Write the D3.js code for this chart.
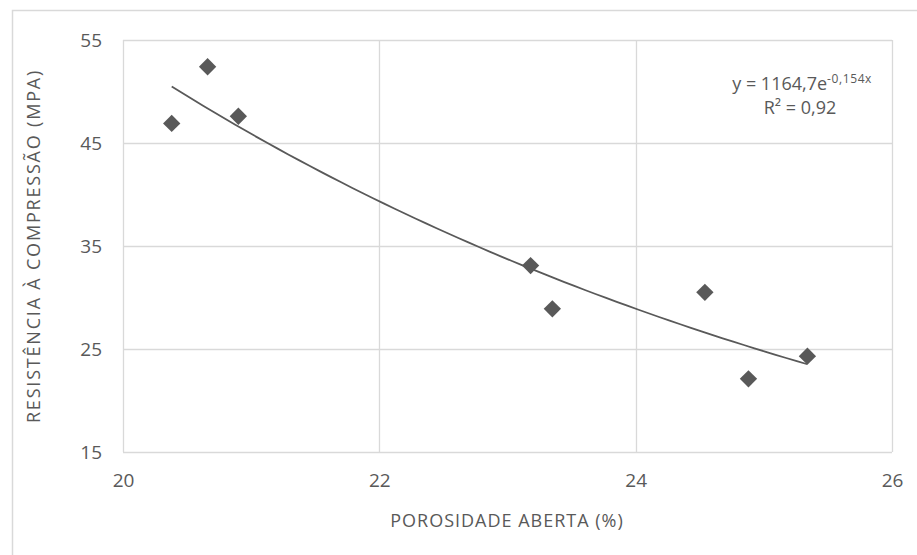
<!DOCTYPE html>
<html>
<head>
<meta charset="utf-8">
<script src="https://cdn.jsdelivr.net/npm/d3@7"></script>
<style>
  html, body { margin: 0; padding: 0; background: #fff; }
  svg { display: block; font-family: "Open Sans", "Liberation Sans", sans-serif; }
</style>
</head>
<body>
<svg id="chart" width="917" height="555"></svg>
<script>
// Porosity (%) vs compressive strength (MPa)
const porosity = [20.38, 20.66, 20.90, 23.18, 23.35, 24.54, 24.88, 25.34];
const strength = [46.9, 52.4, 47.6, 33.1, 28.9, 30.5, 22.1, 24.3];
const xTicks = [20, 22, 24, 26];
const yTicks = [15, 25, 35, 45, 55];
// Exponential trendline y = a·e^(b·x)
const trendA = 1164.7;
const trendB = -0.154;
const equationLabel = ["y = 1164,7e", "-0,154x"];
const r2Label = "R² = 0,92";
const xTitle = "POROSIDADE ABERTA (%)";
const yTitle = "RESISTÊNCIA À COMPRESSÃO (MPA)";

const svg = d3.select("#chart");
const textColor = "#595959";
const gridColor = "#d9d9d9";
const markColor = "#595959";

// chart frame
svg.append("rect")
  .attr("x", 12.5).attr("y", 10.5)
  .attr("width", 912).attr("height", 560)
  .attr("fill", "none").attr("stroke", gridColor).attr("stroke-width", 1.5);

const plot = { left: 123, right: 892, top: 40, bottom: 452 };

const x = d3.scaleLinear().domain([20, 26]).range([plot.left, plot.right]);
const y = d3.scaleLinear().domain([15, 55]).range([plot.bottom, plot.top]);

// gridlines
const g = svg.append("g");
g.selectAll(".hgrid").data(yTicks).join("line")
  .attr("x1", plot.left).attr("x2", plot.right)
  .attr("y1", d => Math.round(y(d)) + 0.5).attr("y2", d => Math.round(y(d)) + 0.5)
  .attr("stroke", gridColor).attr("stroke-width", 1.3);
g.selectAll(".vgrid").data(xTicks).join("line")
  .attr("y1", plot.top).attr("y2", plot.bottom)
  .attr("x1", d => Math.round(x(d)) + 0.5).attr("x2", d => Math.round(x(d)) + 0.5)
  .attr("stroke", gridColor).attr("stroke-width", 1.3);

// axes (labels only)
const xAxis = d3.axisBottom(x).tickValues(xTicks).tickFormat(d3.format("d"))
  .tickSize(0).tickPadding(22);
svg.append("g").attr("transform", `translate(0,${plot.bottom})`).call(xAxis)
  .call(a => a.select(".domain").remove())
  .call(a => a.selectAll("text").attr("fill", textColor)
    .style("font-size", "19px").style("font-family", "'Open Sans', sans-serif"));

const yAxis = d3.axisLeft(y).tickValues(yTicks).tickFormat(d3.format("d"))
  .tickSize(0).tickPadding(21);
svg.append("g").attr("transform", `translate(${plot.left},0)`).call(yAxis)
  .call(a => a.select(".domain").remove())
  .call(a => a.selectAll("text").attr("fill", textColor)
    .style("font-size", "19px").style("font-family", "'Open Sans', sans-serif"));

// trendline across the data range
const xMin = d3.min(porosity), xMax = d3.max(porosity);
const trend = d3.range(0, 61).map(i => {
  const xv = xMin + (xMax - xMin) * i / 60;
  return [xv, trendA * Math.exp(trendB * xv)];
});
svg.append("path")
  .datum(trend)
  .attr("d", d3.line().x(d => x(d[0])).y(d => y(d[1])))
  .attr("fill", "none").attr("stroke", markColor).attr("stroke-width", 1.8);

// data points as diamonds
const data = porosity.map((p, i) => ({ p, s: strength[i] }));
svg.selectAll(".pt").data(data).join("path")
  .attr("d", d3.symbol().type(d3.symbolSquare).size(150))
  .attr("transform", d => `translate(${x(d.p)},${y(d.s)}) rotate(45)`)
  .attr("fill", markColor);

// equation label
const eq = svg.append("text")
  .attr("x", 872).attr("y", 90)
  .attr("text-anchor", "end")
  .attr("fill", textColor)
  .style("font-size", "18px");
eq.append("tspan").text(equationLabel[0]);
eq.append("tspan").text(equationLabel[1])
  .attr("dy", -7).style("font-size", "12px").style("letter-spacing", "0.6px");
svg.append("text")
  .attr("x", 800).attr("y", 114)
  .attr("text-anchor", "middle")
  .attr("fill", textColor)
  .style("font-size", "18px")
  .text(r2Label);

// axis titles
svg.append("text")
  .attr("x", 507).attr("y", 527)
  .attr("text-anchor", "middle")
  .attr("fill", textColor)
  .style("font-size", "18px")
  .style("letter-spacing", "1px")
  .text(xTitle);

svg.append("text")
  .attr("transform", `translate(40,${(plot.top + plot.bottom) / 2}) rotate(-90)`)
  .attr("text-anchor", "middle")
  .attr("fill", textColor)
  .style("font-size", "18px")
  .style("letter-spacing", "1.8px")
  .text(yTitle);
</script>
</body>
</html>
